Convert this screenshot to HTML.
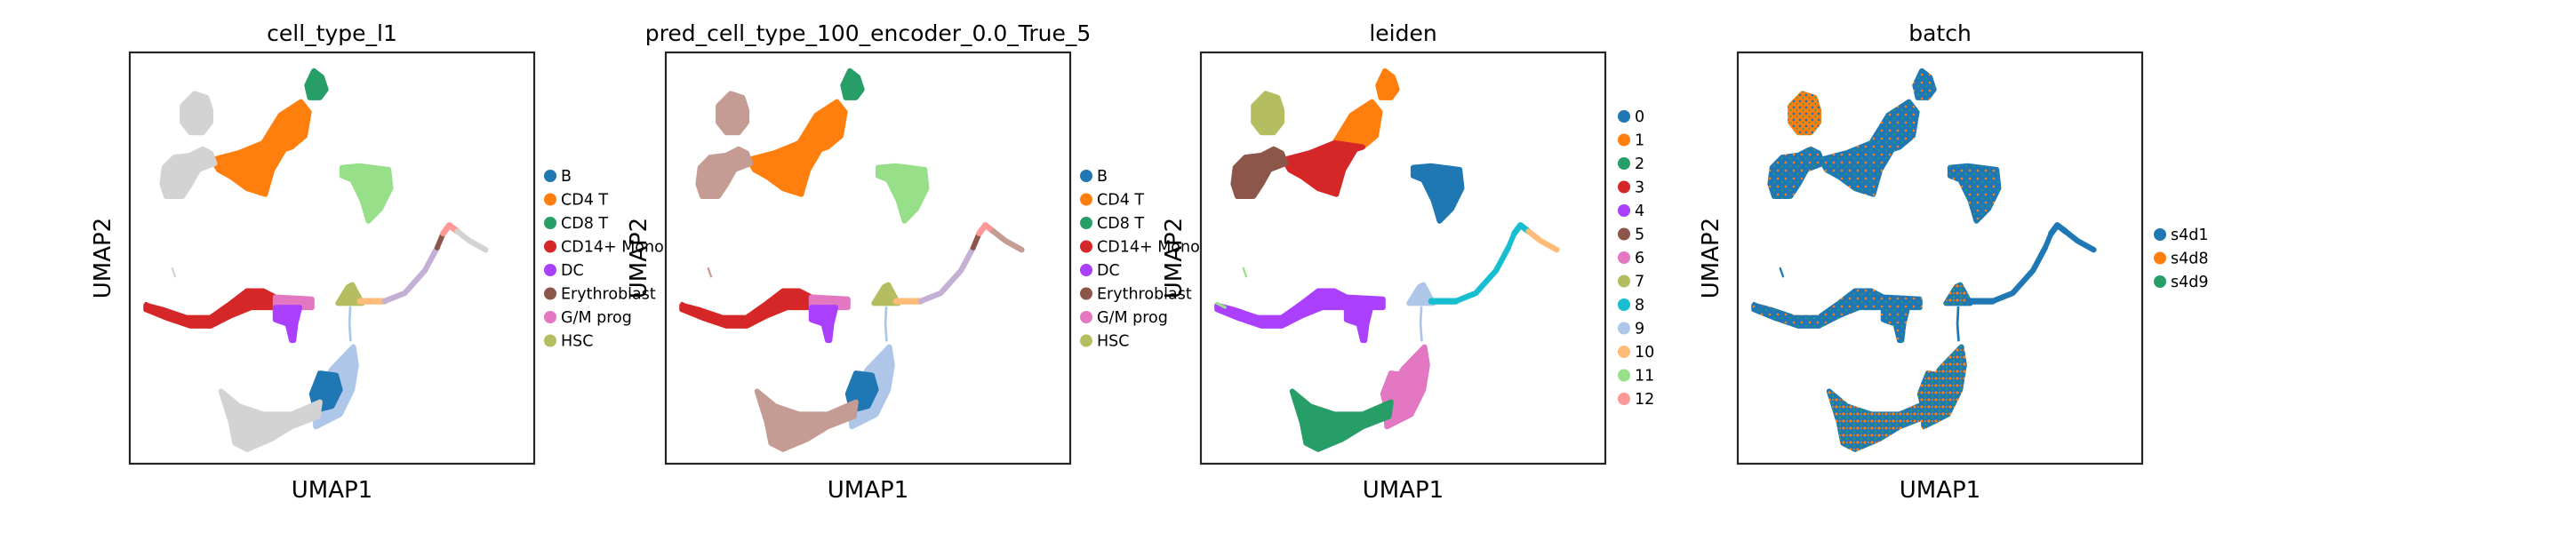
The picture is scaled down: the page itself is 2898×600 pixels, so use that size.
<!DOCTYPE html>
<html><head><meta charset="utf-8">
<style>
html,body{margin:0;padding:0;background:#fff;}
svg{display:block;font-family:"DejaVu Sans","Liberation Sans",sans-serif;}
</style></head>
<body>
<svg id="fig" width="2898" height="600" viewBox="0 0 2898 600" xmlns="http://www.w3.org/2000/svg">
<defs>
<pattern id="batchMix" width="9" height="9" patternUnits="userSpaceOnUse">
<rect width="9" height="9" fill="#1f77b4"/>
<circle cx="2" cy="3" r="1.3" fill="#ff7f0e"/>
<circle cx="7" cy="7" r="1.1" fill="#279e68"/>
</pattern>
<pattern id="batchOrange" width="7" height="7" patternUnits="userSpaceOnUse">
<rect width="7" height="7" fill="#ff7f0e"/>
<circle cx="2" cy="2" r="1.4" fill="#1f77b4"/>
<circle cx="5.5" cy="5" r="1" fill="#279e68"/>
</pattern>
<pattern id="batchHeavy" width="8" height="8" patternUnits="userSpaceOnUse">
<rect width="8" height="8" fill="#1f77b4"/>
<circle cx="2" cy="2" r="1.6" fill="#ff7f0e"/>
<circle cx="6" cy="6" r="1.4" fill="#279e68"/>
<circle cx="6" cy="2" r="1" fill="#ff7f0e"/>
</pattern>
</defs>
</svg>
<script>
// Panel titles and legend data
const titles = ["cell_type_l1", "pred_cell_type_100_encoder_0.0_True_5", "leiden", "batch"];
const legend1Labels = ["B","CD4 T","CD8 T","CD14+ Mono","DC","Erythroblast","G/M prog","HSC"];
const legend1Colors = ["#1f77b4","#ff7f0e","#279e68","#d62728","#aa40fc","#8c564b","#e377c2","#b5bd61"];
const leidenLabels = ["0","1","2","3","4","5","6","7","8","9","10","11","12"];
const leidenColors = ["#1f77b4","#ff7f0e","#279e68","#d62728","#aa40fc","#8c564b","#e377c2","#b5bd61","#17becf","#aec7e8","#ffbb78","#98df8a","#ff9896"];
const batchLabels = ["s4d1","s4d8","s4d9"];
const batchColors = ["#1f77b4","#ff7f0e","#279e68"];

// Region shapes in UMAP units (0-100 horizontal, 0-100 vertical top-down)
const regionNames = ["A","B","C1","C2","D","E","F","G","H","I","M1","M2","M3"];
const regionPolys = [
 [[16,10],[19,11],[20,14],[20,17],[18,19.5],[15,19.5],[13,17],[13,13]],
 [[45.5,4.5],[47.5,6],[48.5,9],[47,11],[44.5,11],[43.8,8]],
 [[42.3,12],[44.3,14.5],[43.3,20.3],[40,23],[33,22],[37.2,15.3]],
 [[40,23],[38.2,23.6],[35.2,28.6],[33.5,34.5],[29.1,33.1],[25,30.2],[22,28.6],[20.5,26.1],[27,24.4],[33,22]],
 [[8.5,28],[11,25.5],[15,25],[18,23.5],[20,24.5],[21,27],[17,28.5],[15,32],[13,35],[9,35],[8,32]],
 [[52.5,28],[57,27.6],[64,28.5],[64.5,33],[62,38],[59,41],[57.5,36],[55,31],[52.5,30]],
 [[4,61.5],[8,62.5],[14,64.5],[20,64.5],[25,61],[29,58],[33,58],[36,59.5],[36,62],[30,62],[25,64],[20,66.5],[15,66.5],[9,64.5],[4,62.5]],
 [[36,59.5],[45,60],[45,62],[36,62]],
 [[36,62],[42,62],[41,66],[40.5,70],[40,70],[39,66],[36,65]],
 [[51.5,61],[54,57],[55,56.5],[57.5,61]],
 [[55.3,71.6],[56,76],[55,82],[52,88],[46,91],[45.5,84],[50,77]],
 [[47,78],[51,78.5],[52,82],[50,86],[46,87],[45,83]],
 [[22.6,82.4],[27,86],[33,88],[40,88],[47,85],[46.5,88.5],[40,91],[35,94],[29,96.5],[26,95],[25,90]]
];
// Colors per panel for each region
const regionColorsP1 = ["#d3d3d3","#279e68","#ff7f0e","#ff7f0e","#d3d3d3","#98df8a","#d62728","#e377c2","#aa40fc","#b5bd61","#aec7e8","#1f77b4","#d3d3d3"];
const regionColorsP2 = ["#c49c94","#279e68","#ff7f0e","#ff7f0e","#c49c94","#98df8a","#d62728","#e377c2","#aa40fc","#b5bd61","#aec7e8","#1f77b4","#c49c94"];
const regionColorsP3 = ["#b5bd61","#ff7f0e","#ff7f0e","#d62728","#8c564b","#1f77b4","#aa40fc","#aa40fc","#aa40fc","#aec7e8","#e377c2","#e377c2","#279e68"];
const regionColorsP4 = ["url(#batchOrange)","url(#batchMix)","url(#batchMix)","url(#batchMix)","url(#batchMix)","url(#batchMix)","url(#batchMix)","url(#batchMix)","url(#batchMix)","url(#batchHeavy)","url(#batchHeavy)","url(#batchHeavy)","url(#batchHeavy)"];

// Thin trajectories (polylines) in UMAP units
const trailNames = ["J1","J2","J3","J4","J5","K","L","N"];
const trailPaths = [
 [[57,60.5],[63,60.5]],
 [[63,60.5],[68,58.5],[73,53],[76,47.5]],
 [[76,47.5],[77.5,44]],
 [[77.5,44],[79,42],[81,43.5]],
 [[81,43.5],[84,45.8],[88,48]],
 [[54.5,62],[54.3,66],[54.6,70]],
 [[10.5,52.5],[11.2,54.5]],
 [[4,61],[6,62]]
];
const trailWidths = [1.6,1.4,1.3,1.5,1.4,0.6,0.5,0.7];
const trailColorsP1 = ["#ffbb78","#c5b0d5","#8c564b","#ff9896","#d3d3d3","#aec7e8","#d3d3d3","#d62728"];
const trailColorsP2 = ["#ffbb78","#c5b0d5","#8c564b","#ff9896","#c49c94","#aec7e8","#c49c94","#d62728"];
const trailColorsP3 = ["#17becf","#17becf","#17becf","#17becf","#ffbb78","#aec7e8","#98df8a","#98df8a"];
const trailColorsP4 = ["#1f77b4","#1f77b4","#1f77b4","#1f77b4","#1f77b4","#1f77b4","#1f77b4","#1f77b4"];

const NS = "http://www.w3.org/2000/svg";
const svg = document.getElementById("fig");
const panelX = [146, 749, 1351, 1955];
const panelW = 455, panelTop = 59, panelH = 463;
function xs(p, u){ return panelX[p] + u/100*panelW; }
function ys(v){ return panelTop + v/100*panelH; }
function mk(tag, attrs){ const e = document.createElementNS(NS, tag); for (const k in attrs) e.setAttribute(k, attrs[k]); return e; }

const regionColorSets = [regionColorsP1, regionColorsP2, regionColorsP3, regionColorsP4];
const trailColorSets = [trailColorsP1, trailColorsP2, trailColorsP3, trailColorsP4];
const panelNames = ["cell-type-panel","pred-cell-type-panel","leiden-panel","batch-panel"];

for (let p = 0; p < 4; p++) {
  const g = mk("g", {});
  
  
  svg.appendChild(g);
  regionPolys.forEach((poly, i) => {
    const pts = poly.map(q => xs(p, q[0]).toFixed(1) + "," + ys(q[1]).toFixed(1)).join(" ");
    const col = regionColorSets[p][i];
    const el = mk("polygon", {points: pts, fill: col, stroke: col, "stroke-width": 6, "stroke-linejoin": "round"});
    
    
    g.appendChild(el);
  });
  trailPaths.forEach((path, i) => {
    const pts = path.map(q => xs(p, q[0]).toFixed(1) + "," + ys(q[1]).toFixed(1)).join(" ");
    const el = mk("polyline", {points: pts, fill: "none", stroke: trailColorSets[p][i], "stroke-width": trailWidths[i]*panelW/100, "stroke-linecap": "round", "stroke-linejoin": "round"});
    
    
    g.appendChild(el);
  });
  const fr = mk("rect", {x: panelX[p], y: panelTop, width: panelW, height: panelH, fill: "none", stroke: "#262626", "stroke-width": 2.2});
  
  
  g.appendChild(fr);
  const t = mk("text", {x: panelX[p] + panelW/2, y: 46, "text-anchor": "middle", "font-size": 25, fill: "#000"});
  t.textContent = titles[p];
  
  
  g.appendChild(t);
  const xl = mk("text", {x: panelX[p] + panelW/2, y: 560, "text-anchor": "middle", "font-size": 26, fill: "#000"});
  xl.textContent = "UMAP1";
  
  
  g.appendChild(xl);
  const cx = panelX[p] - 22, cy = panelTop + panelH/2;
  const yl = mk("text", {x: cx, y: cy, "text-anchor": "middle", "font-size": 26, fill: "#000", transform: "rotate(-90 " + cx + " " + cy + ")"});
  yl.textContent = "UMAP2";
  
  
  g.appendChild(yl);
}

function legend(labels, colors, mx, y0, name) {
  const g = mk("g", {});
  
  
  svg.appendChild(g);
  labels.forEach((lab, i) => {
    const y = y0 + i*26.5;
    const c = mk("circle", {cx: mx, cy: y, r: 7, fill: colors[i]});
    
    
    g.appendChild(c);
    const t = mk("text", {x: mx + 12, y: y + 6, "font-size": 17.5, fill: "#000"});
    t.textContent = lab;
    
    
    g.appendChild(t);
  });
}
legend(legend1Labels, legend1Colors, 619, 198, "cell-type-legend");
legend(legend1Labels, legend1Colors, 1222, 198, "pred-cell-type-legend");
legend(leidenLabels, leidenColors, 1827, 131, "leiden-legend");
legend(batchLabels, batchColors, 2430, 264, "batch-legend");
</script>
</body></html>
